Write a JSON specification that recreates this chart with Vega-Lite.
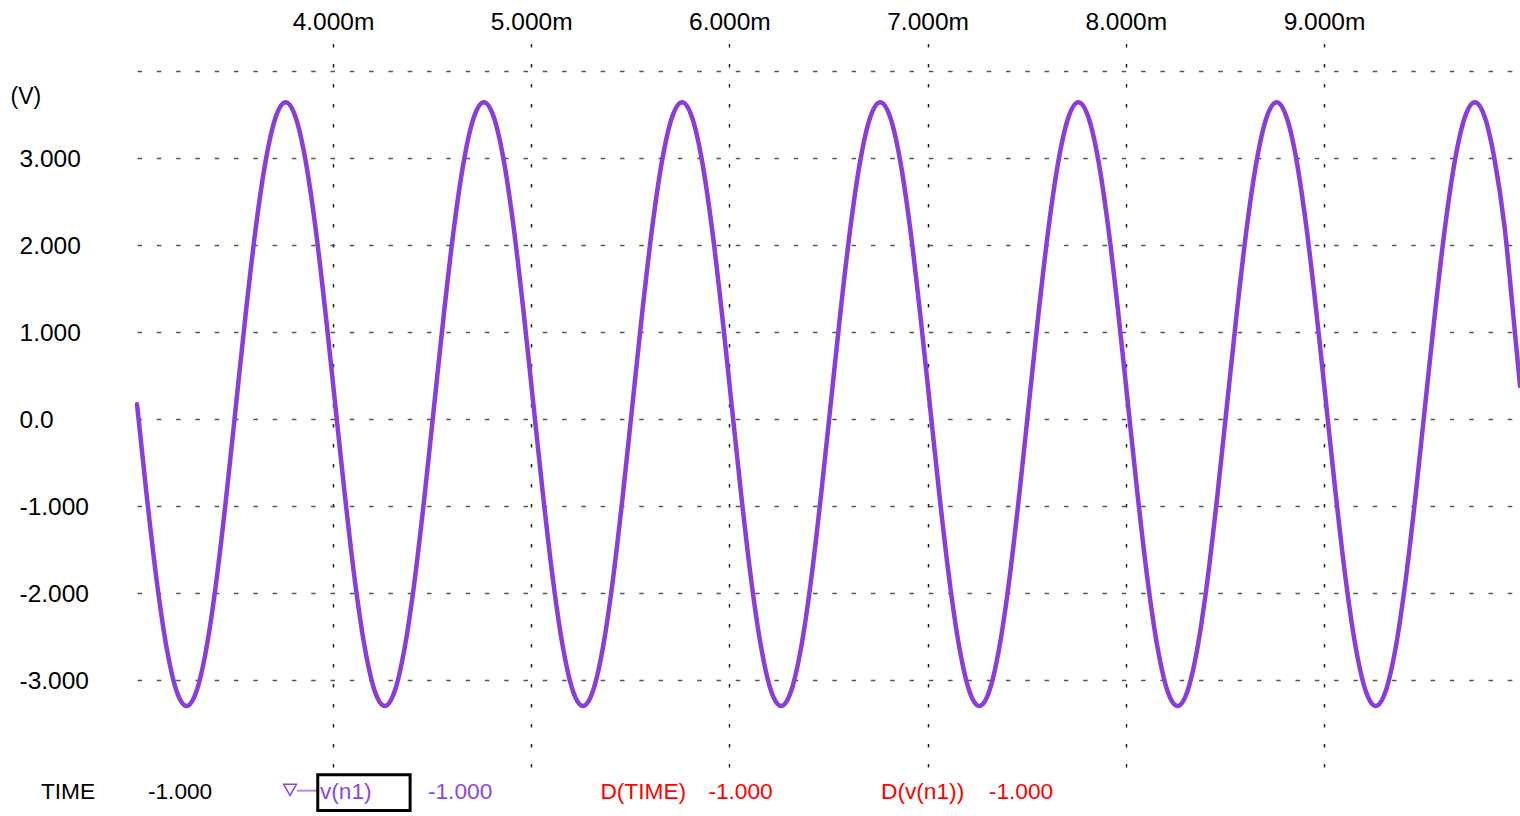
{
  "$schema": "https://vega.github.io/schema/vega-lite/v6.json",
  "width": 1383,
  "height": 727,
  "autosize": {"type": "none"},
  "padding": {"left": 137, "top": 40, "right": 0, "bottom": 49},
  "background": "white",
  "config": {"view": {"stroke": null}, "font": "Liberation Sans"},
  "layer": [
    {
      "data": {"values": [
        {"t":3.011,"v":0.17},{"t":3.061,"v":-0.902},{"t":3.111,"v":-1.87},{"t":3.161,"v":-2.637},{"t":3.211,"v":-3.13},{"t":3.261,"v":-3.3},{"t":3.311,"v":-3.13},{"t":3.361,"v":-2.637},{"t":3.411,"v":-1.87},{"t":3.461,"v":-0.902},{"t":3.511,"v":0.17},{"t":3.561,"v":1.242},{"t":3.611,"v":2.21},{"t":3.661,"v":2.977},{"t":3.711,"v":3.47},{"t":3.761,"v":3.64},{"t":3.811,"v":3.47},{"t":3.861,"v":2.977},{"t":3.911,"v":2.21},{"t":3.961,"v":1.242},
        {"t":4.011,"v":0.17},{"t":4.061,"v":-0.902},{"t":4.111,"v":-1.87},{"t":4.161,"v":-2.637},{"t":4.211,"v":-3.13},{"t":4.261,"v":-3.3},{"t":4.311,"v":-3.13},{"t":4.361,"v":-2.637},{"t":4.411,"v":-1.87},{"t":4.461,"v":-0.902},{"t":4.511,"v":0.17},{"t":4.561,"v":1.242},{"t":4.611,"v":2.21},{"t":4.661,"v":2.977},{"t":4.711,"v":3.47},{"t":4.761,"v":3.64},{"t":4.811,"v":3.47},{"t":4.861,"v":2.977},{"t":4.911,"v":2.21},{"t":4.961,"v":1.242},
        {"t":5.011,"v":0.17},{"t":5.061,"v":-0.902},{"t":5.111,"v":-1.87},{"t":5.161,"v":-2.637},{"t":5.211,"v":-3.13},{"t":5.261,"v":-3.3},{"t":5.311,"v":-3.13},{"t":5.361,"v":-2.637},{"t":5.411,"v":-1.87},{"t":5.461,"v":-0.902},{"t":5.511,"v":0.17},{"t":5.561,"v":1.242},{"t":5.611,"v":2.21},{"t":5.661,"v":2.977},{"t":5.711,"v":3.47},{"t":5.761,"v":3.64},{"t":5.811,"v":3.47},{"t":5.861,"v":2.977},{"t":5.911,"v":2.21},{"t":5.961,"v":1.242},
        {"t":6.011,"v":0.17},{"t":6.061,"v":-0.902},{"t":6.111,"v":-1.87},{"t":6.161,"v":-2.637},{"t":6.211,"v":-3.13},{"t":6.261,"v":-3.3},{"t":6.311,"v":-3.13},{"t":6.361,"v":-2.637},{"t":6.411,"v":-1.87},{"t":6.461,"v":-0.902},{"t":6.511,"v":0.17},{"t":6.561,"v":1.242},{"t":6.611,"v":2.21},{"t":6.661,"v":2.977},{"t":6.711,"v":3.47},{"t":6.761,"v":3.64},{"t":6.811,"v":3.47},{"t":6.861,"v":2.977},{"t":6.911,"v":2.21},{"t":6.961,"v":1.242},
        {"t":7.011,"v":0.17},{"t":7.061,"v":-0.902},{"t":7.111,"v":-1.87},{"t":7.161,"v":-2.637},{"t":7.211,"v":-3.13},{"t":7.261,"v":-3.3},{"t":7.311,"v":-3.13},{"t":7.361,"v":-2.637},{"t":7.411,"v":-1.87},{"t":7.461,"v":-0.902},{"t":7.511,"v":0.17},{"t":7.561,"v":1.242},{"t":7.611,"v":2.21},{"t":7.661,"v":2.977},{"t":7.711,"v":3.47},{"t":7.761,"v":3.64},{"t":7.811,"v":3.47},{"t":7.861,"v":2.977},{"t":7.911,"v":2.21},{"t":7.961,"v":1.242},
        {"t":8.011,"v":0.17},{"t":8.061,"v":-0.902},{"t":8.111,"v":-1.87},{"t":8.161,"v":-2.637},{"t":8.211,"v":-3.13},{"t":8.261,"v":-3.3},{"t":8.311,"v":-3.13},{"t":8.361,"v":-2.637},{"t":8.411,"v":-1.87},{"t":8.461,"v":-0.902},{"t":8.511,"v":0.17},{"t":8.561,"v":1.242},{"t":8.611,"v":2.21},{"t":8.661,"v":2.977},{"t":8.711,"v":3.47},{"t":8.761,"v":3.64},{"t":8.811,"v":3.47},{"t":8.861,"v":2.977},{"t":8.911,"v":2.21},{"t":8.961,"v":1.242},
        {"t":9.011,"v":0.17},{"t":9.061,"v":-0.902},{"t":9.111,"v":-1.87},{"t":9.161,"v":-2.637},{"t":9.211,"v":-3.13},{"t":9.261,"v":-3.3},{"t":9.311,"v":-3.13},{"t":9.361,"v":-2.637},{"t":9.411,"v":-1.87},{"t":9.461,"v":-0.902},{"t":9.511,"v":0.17},{"t":9.561,"v":1.242},{"t":9.611,"v":2.21},{"t":9.661,"v":2.977},{"t":9.711,"v":3.47},{"t":9.761,"v":3.64},{"t":9.811,"v":3.47},{"t":9.861,"v":2.977},{"t":9.911,"v":2.21},{"t":9.961,"v":1.05},
        {"t":9.989,"v":0.38}
      ]},
      "mark": {"type": "line", "color": "#8a3ddb", "strokeWidth": 4.5, "interpolate": "monotone", "strokeJoin": "round", "strokeCap": "round"},
      "encoding": {
        "x": {
          "field": "t", "type": "quantitative",
          "scale": {"domain": [3.011, 9.989], "nice": false, "zero": false},
          "axis": {
            "orient": "top", "values": [4, 5, 6, 7, 8, 9], "title": null,
            "labelExpr": "format(datum.value,'.3f')+'m'",
            "domain": false, "ticks": false, "tickSize": 0, "labelPadding": 10.7,
            "labelBaseline": "alphabetic", "labelFontSize": 24.5, "labelColor": "#000000",
            "labelFont": "Liberation Sans", "labelFlush": false, "labelOverlap": false,
            "grid": true, "gridColor": "#222222", "gridDash": [3.5, 16.5], "gridWidth": 1.5, "gridOpacity": 1
          }
        },
        "y": {
          "field": "v", "type": "quantitative",
          "scale": {"domain": [-4, 4.356], "nice": false, "zero": false},
          "axis": {
            "orient": "left", "values": [-3, -2, -1, 0, 1, 2, 3, 4],
            "title": "(V)", "titleAngle": 0, "titleX": -127, "titleY": 56,
            "titleAlign": "left", "titleBaseline": "middle", "titleFontSize": 23,
            "titleFontWeight": "normal", "titleColor": "#000000", "titleFont": "Liberation Sans",
            "labelExpr": "datum.value==4?'':(datum.value==0?'0.0':(datum.value<0?'-'+format(-datum.value,'.3f'):format(datum.value,'.3f')))",
            "labelAlign": "left", "labelPadding": 118, "labelOffset": 2, "labelBaseline": "middle",
            "labelFontSize": 24.5, "labelColor": "#000000", "labelFont": "Liberation Sans",
            "labelFlush": false, "labelOverlap": false,
            "domain": false, "ticks": false, "tickSize": 0,
            "grid": true, "gridColor": "#555555", "gridDash": [4.5, 14.8], "gridWidth": 1.5, "gridOpacity": 1
          }
        }
      }
    },
    {
      "data": {"values": [
        {"label": "TIME", "t": 2.526, "g": "k"},
        {"label": "-1.000", "t": 3.066, "g": "k"},
        {"label": "v(n1)", "t": 3.934, "g": "p"},
        {"label": "-1.000", "t": 4.479, "g": "p"},
        {"label": "D(TIME)", "t": 5.349, "g": "r"},
        {"label": "-1.000", "t": 5.894, "g": "r"},
        {"label": "D(v(n1))", "t": 6.765, "g": "r"},
        {"label": "-1.000", "t": 7.309, "g": "r"}
      ]},
      "mark": {"type": "text", "align": "left", "baseline": "alphabetic", "fontSize": 22.7, "font": "Liberation Sans"},
      "encoding": {
        "x": {"field": "t", "type": "quantitative"},
        "y": {"datum": -4.371},
        "text": {"field": "label"},
        "color": {"field": "g", "type": "nominal", "scale": {"domain": ["k", "p", "r"], "range": ["#000000", "#8d47e3", "#ff0000"]}, "legend": null}
      }
    },
    {
      "data": {"values": [{}]},
      "mark": {"type": "rule", "color": "#b68be8", "strokeWidth": 2},
      "encoding": {"x": {"datum": 3.818}, "x2": {"datum": 3.924}, "y": {"datum": -4.272}}
    },
    {
      "data": {"values": [{}]},
      "mark": {"type": "point", "shape": "triangle-down", "filled": false, "color": "#8d47e3", "strokeWidth": 1.5, "size": 169, "opacity": 1},
      "encoding": {"x": {"datum": 3.783}, "y": {"datum": -4.262}}
    },
    {
      "data": {"values": [{}]},
      "mark": {"type": "rect", "fill": "#ffffff", "fillOpacity": 0, "stroke": "#000000", "strokeWidth": 3},
      "encoding": {"x": {"datum": 3.923}, "x2": {"datum": 4.389}, "y": {"datum": -4.09}, "y2": {"datum": -4.5}}
    }
  ]
}
